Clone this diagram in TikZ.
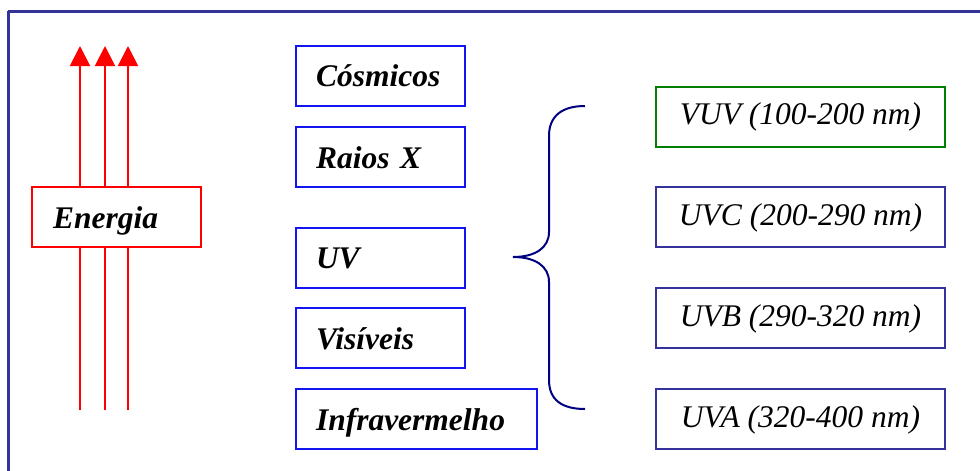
\documentclass[tikz,border=0pt]{standalone}
\usepackage{fontspec}
\setmainfont{Liberation Serif}
\usetikzlibrary{arrows.meta}
\definecolor{framecol}{RGB}{51,51,153}
\definecolor{leftblue}{RGB}{20,20,240}
\definecolor{rightblue}{RGB}{51,51,153}
\definecolor{vuvgreen}{RGB}{0,128,0}
\definecolor{bracecol}{RGB}{0,0,128}
\definecolor{arrred}{RGB}{255,0,0}
\tikzset{
  basebox/.style={draw, line width=2pt, fill=white, text height=22pt, text depth=0pt,
    font=\fontsize{31.5}{36}\selectfont},
  leftbox/.style={basebox, draw=leftblue, font=\fontsize{31.5}{36}\selectfont\bfseries\itshape,
    align=left, inner xsep=20pt, minimum height=60pt},
  energybox/.style={basebox, draw=arrred, font=\fontsize{31.5}{36}\selectfont\bfseries\itshape,
    align=left, inner xsep=21pt, minimum height=60pt},
  rightbox/.style={basebox, draw=rightblue, font=\fontsize{31.5}{36}\selectfont\itshape,
    align=center, inner xsep=0pt, minimum width=289pt, minimum height=60pt, text depth=6pt},
  energyarrow/.style={draw=arrred, line width=2pt, -{Triangle[width=20pt,length=20pt]}},
  bracestyle/.style={draw=bracecol, line width=2pt},
}
\begin{document}
\begin{tikzpicture}[x=1pt,y=-1pt]
\useasboundingbox (0,0) rectangle (980,471);
% outer frame (cropped at right and bottom)
\draw[framecol, line width=3pt] (8,11) -- (990,11);
\draw[framecol, line width=3pt] (8,11) -- (8,480);
% energy arrows
\coordinate (a1s) at (80,410); \coordinate (a1e) at (80,46);
\coordinate (a2s) at (105,410); \coordinate (a2e) at (105,46);
\coordinate (a3s) at (128,410); \coordinate (a3e) at (128,46);
\draw[energyarrow] (a1s) -- (a1e);
\draw[energyarrow] (a2s) -- (a2e);
\draw[energyarrow] (a3s) -- (a3e);
\node[energybox, text width=127pt] (energia) at (116.5,217) {Energia};
% middle boxes
\node[leftbox, text width=129pt] (cosmicos) at (380.5,75.5) {Cósmicos};
\node[leftbox, text width=129pt] (raiosx) at (380.5,157) {Raios X};
\node[leftbox, text width=129pt] (uv) at (380.5,257.5) {UV};
\node[leftbox, text width=129pt] (visiveis) at (380.5,338) {Visíveis};
\node[leftbox, text width=201pt] (infra) at (416.5,419) {Infravermelho};
% right boxes
\node[rightbox, draw=vuvgreen] (vuv) at (800.5,116.5) {VUV (100-200 nm)};
\node[rightbox] (uvc) at (800.5,217) {UVC (200-290 nm)};
\node[rightbox] (uvb) at (800.5,318) {UVB (290-320 nm)};
\node[rightbox] (uva) at (800.5,419) {UVA (320-400 nm)};
% brace
\coordinate (btop) at (585,106);
\coordinate (btip) at (513,257);
\coordinate (bbot) at (585,409);
\draw[bracestyle] (btop) .. controls (562,106) and (549,116) .. (549,136)
  -- (549,232) .. controls (549,248) and (535,257) .. (btip)
  .. controls (535,257) and (549,266) .. (549,282)
  -- (549,380) .. controls (549,400) and (562,409) .. (bbot);
\end{tikzpicture}
\end{document}
